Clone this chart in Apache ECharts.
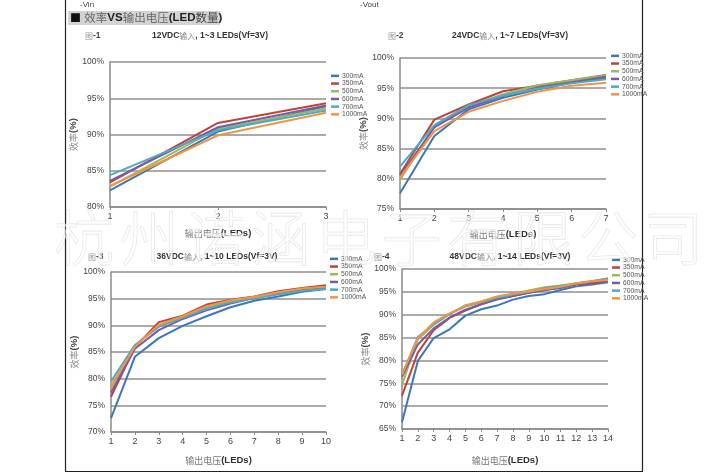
<!DOCTYPE html>
<html><head><meta charset="utf-8">
<script src="https://cdn.jsdelivr.net/npm/echarts@6/dist/echarts.min.js"></script>
<style>html,body{margin:0;padding:0;background:#fff}#c{width:706px;height:474px}</style>
</head><body><div id="c"></div>
<script>
// ---- data ----
const seriesNames = ['300mA','350mA','500mA','600mA','700mA','1000mA'];
const cats1 = ['1','2','3'];
const c1_300 = [82.3, 90.4, 93.9];
const c1_350 = [83.4, 91.6, 94.3];
const c1_500 = [82.8, 90.8, 93.6];
const c1_600 = [83.6, 91.0, 94.0];
const c1_700 = [84.4, 90.6, 93.3];
const c1_1000 = [82.9, 89.9, 93.0];

const cats2 = ['1','2','3','4','5','6','7'];
const c2_300 = [77.6, 87.1, 91.5, 93.4, 94.8, 95.9, 96.7];
const c2_350 = [80.8, 89.8, 92.3, 94.5, 95.4, 96.3, 97.2];
const c2_500 = [79.8, 88.7, 92.0, 94.0, 95.5, 96.3, 97.1];
const c2_600 = [80.5, 88.5, 91.8, 93.7, 95.1, 96.0, 96.9];
const c2_700 = [82.0, 88.9, 92.2, 93.8, 94.9, 95.8, 96.5];
const c2_1000 = [80.2, 87.9, 91.1, 92.9, 94.4, 95.4, 95.9];

const cats3 = ['1','2','3','4','5','6','7','8','9','10'];
const c3_300 = [72.6, 84.1, 87.6, 89.9, 91.7, 93.4, 94.6, 95.4, 96.3, 96.8];
const c3_350 = [76.6, 85.9, 90.6, 91.8, 93.9, 94.8, 95.4, 96.4, 97.0, 97.5];
const c3_500 = [78.2, 86.2, 89.9, 91.6, 93.3, 94.5, 95.3, 96.1, 96.8, 97.2];
const c3_600 = [77.4, 85.6, 89.1, 91.2, 92.8, 94.1, 95.1, 95.9, 96.6, 97.1];
const c3_700 = [79.5, 86.3, 89.7, 91.4, 93.1, 94.3, 95.1, 95.8, 96.5, 96.8];
const c3_1000 = [78.6, 86.0, 90.1, 91.7, 93.6, 94.7, 95.3, 96.2, 96.9, 97.25];

const cats4 = ['1','2','3','4','5','6','7','8','9','10','11','12','13','14'];
const c4_300 = [66.5, 79.9, 84.9, 86.8, 89.8, 91.2, 92.0, 93.3, 94.1, 94.5, 95.4, 96.2, 96.6, 97.1];
const c4_350 = [72.3, 81.7, 86.6, 89.3, 90.9, 92.3, 93.5, 94.1, 94.8, 95.4, 95.9, 96.6, 96.9, 97.5];
const c4_500 = [74.7, 84.6, 87.8, 90.1, 92.1, 92.9, 93.9, 94.6, 95.3, 96.0, 96.4, 96.9, 97.4, 97.9];
const c4_600 = [76.4, 83.5, 87.0, 89.4, 91.1, 92.3, 93.3, 94.1, 94.8, 95.4, 95.9, 96.7, 97.1, 97.8];
const c4_700 = [76.9, 85.1, 87.9, 90.2, 91.8, 92.7, 93.7, 94.4, 95.0, 95.8, 96.3, 96.8, 97.3, 97.9];
const c4_1000 = [76.9, 84.8, 88.3, 90.3, 91.9, 92.9, 94.0, 94.6, 95.1, 95.6, 96.1, 96.9, 97.3, 97.6];

const yMins = [80, 75, 70, 65];
const chartTitles = [
  ['12VDC', '输入', ', 1~3 LEDs(Vf=3V)'],
  ['24VDC', '输入', ', 1~7 LEDs(Vf=3V)'],
  ['36VDC', '输入', ', 1~10 LEDs(Vf=3V)'],
  ['48VDC', '输入', ', 1~14 LEDs(Vf=3V)']
];
const figLabels = ['-1','-2','-3','-4'];
const watermark = '杭州诺涵电子有限公司';

// ---- build ----
const colors = ['#3a78b8','#c0413d','#9bbb59','#7a5ca6','#4bacc6','#f39440'];
const allCats = [cats1, cats2, cats3, cats4];
const allData = [
  [c1_300,c1_350,c1_500,c1_600,c1_700,c1_1000],
  [c2_300,c2_350,c2_500,c2_600,c2_700,c2_1000],
  [c3_300,c3_350,c3_500,c3_600,c3_700,c3_1000],
  [c4_300,c4_350,c4_500,c4_600,c4_700,c4_1000]
];
const FONT = '"Liberation Sans", Arial, "Noto Sans CJK SC", sans-serif';
const CJK = '"Noto Sans CJK SC", sans-serif';

const grids = [
  {left:110, top:62, width:216, height:145},
  {left:400, top:58, width:206, height:151},
  {left:111, top:272, width:215, height:160},
  {left:402, top:269, width:206, height:160}
];
const xNameGaps = [22, 21, 24, 27];
const yNameGaps = [25, 20, 23, 22];
const legendPos = [
  {left:331, top:72}, {left:611, top:52}, {left:330, top:255}, {left:612, top:256}
];
const titleCenters = [[210, 36], [510, 36], [217, 257], [510, 257]];
const figPos = [[85, 36], [388, 36], [88, 257], [374, 257]];

const xAxes = [], yAxes = [], series = [], legends = [];
for (let i = 0; i < 4; i++) {
  xAxes.push({
    type:'category', gridIndex:i, data:allCats[i], boundaryGap:false,
    axisLine:{lineStyle:{color:'#8a8a8a', width:1.5}},
    axisTick:{show:true, length:3, lineStyle:{color:'#8a8a8a'}},
    axisLabel:{color:'#444', fontSize:9, margin:5, fontFamily:FONT},
    name:'{a|输出电压}{b|(LEDs)}', nameLocation:'middle', nameGap:xNameGaps[i],
    nameTextStyle:{rich:{
      a:{fontSize:9, color:'#777', fontFamily:CJK},
      b:{fontSize:9.5, color:'#333', fontWeight:'bold', fontFamily:FONT}
    }}
  });
  yAxes.push({
    type:'value', gridIndex:i, min:yMins[i], max:100, interval:5,
    axisLine:{show:true, lineStyle:{color:'#8a8a8a', width:1.5}},
    axisTick:{show:false},
    splitLine:{lineStyle:{color:'#8f8f8f', width:1.6}},
    axisLabel:{color:'#444', fontSize:8.5, margin:6, formatter:'{value}%', fontFamily:FONT},
    name:'{a|效率}{b|(%)}', nameLocation:'middle', nameGap:yNameGaps[i], nameRotate:90,
    nameTextStyle:{rich:{
      a:{fontSize:9, color:'#888', fontFamily:CJK},
      b:{fontSize:9.5, color:'#444', fontWeight:'bold', fontFamily:FONT}
    }}
  });
  for (let s = 0; s < 6; s++) {
    series.push({
      type:'line', name:seriesNames[s], xAxisIndex:i, yAxisIndex:i,
      data:allData[i][s], symbol:'none', color:colors[s],
      lineStyle:{width:2, color:colors[s]}, animation:false
    });
  }
  legends.push({
    left:legendPos[i].left, top:legendPos[i].top, orient:'vertical', padding:0,
    itemGap:0, itemWidth:8, itemHeight:2.5, icon:'rect', data:seriesNames,
    textStyle:{fontSize:6.8, color:'#555', lineHeight:7.7, padding:[0,0,0,-2], fontFamily:FONT}
  });
}

const graphics = [];
// frame
graphics.push({type:'line', shape:{x1:65.5,y1:0,x2:65.5,y2:471}, style:{stroke:'#222', lineWidth:1.2}});
graphics.push({type:'line', shape:{x1:642.5,y1:0,x2:642.5,y2:471}, style:{stroke:'#222', lineWidth:1.2}});
graphics.push({type:'line', shape:{x1:65,y1:471.5,x2:643,y2:471.5}, style:{stroke:'#222', lineWidth:1.2}});
// top texts
graphics.push({type:'text', x:80, y:5, style:{text:'-Vin', fontSize:8, fill:'#444', fontFamily:FONT, verticalAlign:'middle'}});
graphics.push({type:'text', x:360, y:5, style:{text:'-Vout', fontSize:8, fill:'#444', fontFamily:FONT, verticalAlign:'middle'}});
// header bar
graphics.push({type:'rect', shape:{x:68,y:11,width:152,height:14}, style:{fill:'#d3d3d3'}});
graphics.push({type:'text', x:70, y:18, style:{
  text:'{s|■} {a|效率}{b|VS}{a|输出电压}{b|(LED}{c|数量}{b|)}', verticalAlign:'middle',
  rich:{
    s:{fontSize:11, fill:'#111', fontFamily:CJK},
    a:{fontSize:11.5, fill:'#666', fontFamily:CJK},
    b:{fontSize:11.5, fill:'#222', fontWeight:'bold', fontFamily:FONT},
    c:{fontSize:11.5, fill:'#444', fontFamily:CJK}
  }}});
for (let i = 0; i < 4; i++) {
  const t = chartTitles[i];
  graphics.push({type:'text', x:titleCenters[i][0], y:titleCenters[i][1], style:{
    text:'{b|'+t[0]+'}{a|'+t[1]+'}{b|'+t[2]+'}', align:'center', verticalAlign:'middle',
    rich:{
      a:{fontSize:8, fill:'#888', fontFamily:CJK},
      b:{fontSize:8.5, fill:'#333', fontWeight:'bold', fontFamily:FONT}
    }}});
  graphics.push({type:'text', x:figPos[i][0], y:figPos[i][1], style:{
    text:'{a|图}{b|'+figLabels[i]+'}', verticalAlign:'middle',
    rich:{
      a:{fontSize:8, fill:'#999', fontFamily:CJK},
      b:{fontSize:8.5, fill:'#444', fontWeight:'bold', fontFamily:FONT}
    }}});
}
// watermark
for (let k = 0; k < watermark.length; k++) {
  graphics.push({type:'text', x:54 + k*65.5, y:238, z:100, silent:true, style:{
    text:watermark[k], fontSize:60, fontFamily:CJK, fontWeight:200,
    fill:'rgba(255,255,255,0.55)', stroke:'rgba(200,200,200,0.6)', lineWidth:0.8,
    verticalAlign:'middle', align:'left'
  }});
}

const chart = echarts.init(document.getElementById('c'), null, {renderer:'canvas'});
chart.setOption({
  backgroundColor:'#fff', animation:false,
  grid:grids, xAxis:xAxes, yAxis:yAxes, legend:legends, series:series,
  graphic:graphics
});
</script></body></html>
